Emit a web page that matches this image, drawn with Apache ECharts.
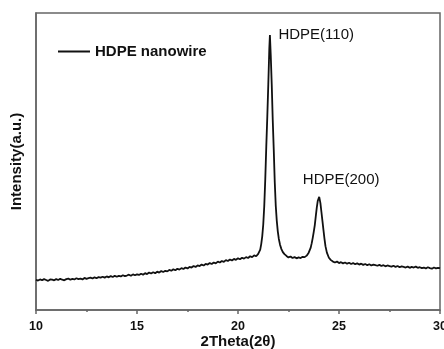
<!DOCTYPE html>
<html>
<head>
<meta charset="utf-8">
<script src="https://cdn.jsdelivr.net/npm/echarts@6/dist/echarts.min.js"></script>
<style>html,body{margin:0;padding:0;background:#fff;}#c{width:444px;height:349px;}</style>
</head>
<body>
<div id="c"></div>
<script>
var seriesName = 'HDPE nanowire';
var xTicks = [10, 15, 20, 25, 30];
var twoTheta = [
10.0,10.1,10.2,10.3,10.4,10.5,10.6,10.7,10.8,10.9,
11.0,11.1,11.2,11.3,11.4,11.5,11.6,11.7,11.8,11.9,
12.0,12.1,12.2,12.3,12.4,12.5,12.6,12.7,12.8,12.9,
13.0,13.1,13.2,13.3,13.4,13.5,13.6,13.7,13.8,13.9,
14.0,14.1,14.2,14.3,14.4,14.5,14.6,14.7,14.8,14.9,
15.0,15.1,15.2,15.3,15.4,15.5,15.6,15.7,15.8,15.9,
16.0,16.1,16.2,16.3,16.4,16.5,16.6,16.7,16.8,16.9,
17.0,17.1,17.2,17.3,17.4,17.5,17.6,17.7,17.8,17.9,
18.0,18.1,18.2,18.3,18.4,18.5,18.6,18.7,18.8,18.9,
19.0,19.1,19.2,19.3,19.4,19.5,19.6,19.7,19.8,19.9,
20.0,20.1,20.2,20.3,20.4,20.5,20.6,20.7,20.8,20.9,
21.0,21.05,21.1,21.15,21.2,21.25,21.3,21.35,21.4,21.45,21.5,21.55,21.58,
21.62,21.67,21.72,21.77,21.82,21.87,21.92,21.97,22.02,22.08,22.15,22.22,
22.3,22.4,22.5,22.6,22.7,22.8,22.9,23.0,23.1,23.2,23.3,23.4,23.5,
23.6,23.65,23.7,23.75,23.8,23.85,23.9,23.95,24.02,24.08,24.13,24.18,24.23,24.28,24.33,
24.4,24.5,24.6,24.7,24.8,24.9,
25.0,25.1,25.2,25.3,25.4,25.5,25.6,25.7,25.8,25.9,
26.0,26.1,26.2,26.3,26.4,26.5,26.6,26.7,26.8,26.9,
27.0,27.1,27.2,27.3,27.4,27.5,27.6,27.7,27.8,27.9,
28.0,28.1,28.2,28.3,28.4,28.5,28.6,28.7,28.8,28.9,
29.0,29.1,29.2,29.3,29.4,29.5,29.6,29.7,29.8,29.9,30.0
];
var intensity = [
10.2,9.9,10.3,10.0,10.4,10.1,9.8,10.3,10.2,10.0,
10.4,10.1,10.5,10.2,10.0,10.4,10.6,10.2,10.5,10.3,
10.7,10.4,10.6,10.3,10.8,10.5,10.7,10.9,10.6,11.0,
10.7,11.1,10.9,11.2,10.9,11.3,11.0,11.4,11.1,11.5,
11.2,11.5,11.3,11.7,11.4,11.6,11.9,11.5,12.0,11.7,
12.0,11.8,12.2,11.9,12.4,12.1,12.6,12.3,12.7,12.4,
12.9,12.6,13.1,12.8,13.2,13.0,13.5,13.2,13.7,13.4,
13.9,13.6,14.1,13.8,14.3,14.0,14.5,14.3,14.8,14.5,
15.0,14.8,15.3,15.0,15.5,15.3,15.8,15.5,16.0,15.7,
16.3,16.0,16.5,16.2,16.8,16.5,17.0,16.7,17.2,16.9,
17.4,17.1,17.6,17.3,17.8,17.5,18.1,17.8,18.4,18.1,
18.9,19.3,20.3,22.2,24.8,28.8,35,44,55,65,76,88,92.6,
86,76,64,54,43,35,30,26.5,24,22,20.5,19.5,
18.8,18.2,17.7,18.0,17.5,17.8,17.4,17.7,17.5,17.9,17.8,18.3,19.3,
21,22.5,24.3,26.3,28.5,31.5,34.5,36.8,38.1,36,33,30,27,24,21.5,
19.3,17.6,16.8,16.3,16.0,16.3,
15.8,16.1,15.7,16.0,15.6,15.9,15.5,15.8,15.4,15.7,
15.3,15.6,15.2,15.5,15.1,15.4,15.0,15.3,15.1,14.9,
15.2,14.8,15.1,14.7,15.0,14.8,14.6,14.9,14.5,14.8,
14.4,14.7,14.5,14.3,14.6,14.2,14.5,14.3,14.6,14.2,
14.4,14.1,14.3,14.0,14.4,14.1,13.9,14.3,14.0,14.2,14.1
];
var peakLabels = [
  { name: 'HDPE(110)', x: 21.58, y: 92.6 },
  { name: 'HDPE(200)', x: 24.02, y: 38.1 }
];

var data = twoTheta.map(function (t, i) { return [t, intensity[i]]; });
var font = '"Liberation Sans", Arial, sans-serif';
var chart = echarts.init(document.getElementById('c'), null, { renderer: 'canvas' });
chart.setOption({
  animation: false,
  backgroundColor: '#fff',
  grid: { left: 36, right: 4, top: 13, bottom: 39, containLabel: false, outerBoundsMode: 'none',
          show: true, borderColor: '#666', borderWidth: 1.5 },
  legend: {
    left: 58, top: 44, padding: 0,
    itemWidth: 32, itemHeight: 2, itemGap: 5,
    data: [{ name: seriesName, icon: 'rect' }],
    textStyle: { fontFamily: font, fontWeight: 'bold', fontSize: 15, color: '#111' }
  },
  xAxis: {
    type: 'value', min: xTicks[0], max: xTicks[xTicks.length - 1], interval: 5,
    name: '2Theta(2θ)', nameLocation: 'middle', nameGap: 24, nameMoveOverlap: false,
    nameTextStyle: { fontFamily: font, fontWeight: 'bold', fontSize: 15, color: '#111' },
    axisLine: { lineStyle: { color: '#666', width: 1.5 } },
    axisTick: { length: 4, lineStyle: { color: '#666', width: 1.5 } },
    minorTick: { show: true, splitNumber: 2, length: 2, lineStyle: { color: '#666', width: 1.5 } },
    axisLabel: { margin: 10, fontFamily: font, fontWeight: 'bold', fontSize: 12.5, color: '#111' },
    splitLine: { show: false }
  },
  yAxis: {
    type: 'value', min: 0, max: 100,
    name: 'Intensity(a.u.)', nameLocation: 'middle', nameGap: 12, nameMoveOverlap: false,
    nameTextStyle: { fontFamily: font, fontWeight: 'bold', fontSize: 15, color: '#111' },
    axisLine: { show: true, lineStyle: { color: '#666', width: 1.5 } },
    axisTick: { show: false }, axisLabel: { show: false }, splitLine: { show: false }
  },
  series: [{
    name: seriesName, type: 'line', data: data, showSymbol: false, symbol: 'none',
    lineStyle: { color: '#111', width: 1.8 }, itemStyle: { color: '#111' },
    markPoint: {
      symbol: 'circle', symbolSize: 1, itemStyle: { color: 'rgba(0,0,0,0)' },
      data: [
        { coord: [peakLabels[0].x, peakLabels[0].y], name: peakLabels[0].name,
          label: { show: true, position: 'right', distance: 8, formatter: '{b}',
            fontFamily: font, fontSize: 15, color: '#111' } },
        { coord: [peakLabels[1].x, peakLabels[1].y], name: peakLabels[1].name,
          label: { show: true, position: 'top', distance: 9, offset: [22, 0], formatter: '{b}',
            fontFamily: font, fontSize: 15, color: '#111' } }
      ]
    }
  }]
});
</script>
</body>
</html>
